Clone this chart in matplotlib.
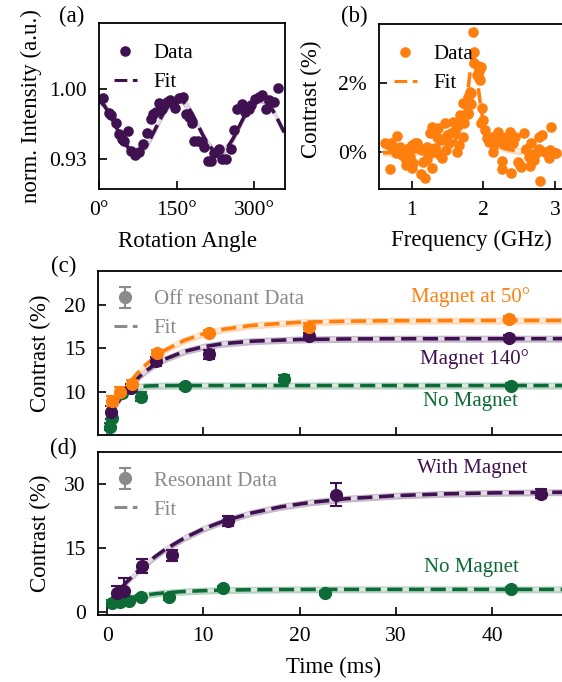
import numpy as np
import matplotlib
matplotlib.use("Agg")
from matplotlib import pyplot as plt

plt.rcParams['font.family'] = ['Liberation Serif', 'DejaVu Serif']
plt.rcParams['font.size'] = 15

purple = "#3f1150"
orange = "#ff7f0e"
green = "#0d6b36"
grey = "#8a8a8a"

# (a) rotation scan
angle_deg = [8, 20, 23, 32, 38, 45, 49, 56, 62, 70, 77, 85, 92, 101, 105, 110, 116, 122,
             126, 131, 137, 143, 148, 154, 163, 168, 174, 180, 184, 191, 199, 204, 210, 217,
             223, 232, 238, 246, 255, 262, 268, 277, 283, 290, 294, 302, 310, 315, 323, 329,
             339, 346]
intensity = [0.9906, 0.9754, 0.9736, 0.966, 0.955, 0.950, 0.9476, 0.958, 0.9374, 0.934,
             0.9364, 0.945, 0.9557, 0.970, 0.975, 0.977, 0.986, 0.980, 0.984, 0.987, 0.989,
             0.986, 0.981, 0.9906, 0.992, 0.975, 0.972, 0.966, 0.948, 0.9476, 0.9466, 0.942,
             0.928, 0.928, 0.9354, 0.940, 0.9297, 0.9297, 0.940, 0.9584, 0.980, 0.9848, 0.977,
             0.980, 0.9838, 0.9896, 0.992, 0.994, 0.980, 0.989, 0.987, 1.0007]
fit_angle = [0, 10, 20, 30, 40, 50, 60, 70, 80, 90, 100, 110, 120, 130, 140, 150, 160, 170,
             180, 190, 200, 210, 220, 230, 240, 250, 260, 270, 280, 290, 300, 310, 320, 330,
             340, 350, 360]
fit_intensity = [0.9887, 0.9835, 0.9753, 0.9651, 0.9547, 0.9455, 0.9389, 0.9361, 0.9373,
                 0.9425, 0.9507, 0.9609, 0.9713, 0.9805, 0.9871, 0.9899, 0.9887, 0.9835,
                 0.9753, 0.9651, 0.9547, 0.9455, 0.9389, 0.9361, 0.9373, 0.9425, 0.9507,
                 0.9609, 0.9713, 0.9805, 0.9871, 0.9899, 0.9887, 0.9835, 0.9753, 0.9651, 0.9547]

# (b) frequency scan
freq = [0.63, 0.68, 0.70, 0.71, 0.74, 0.78, 0.80, 0.84, 0.86, 0.88, 0.91, 0.92, 0.95, 0.96,
        0.98, 1.00, 1.01, 1.02, 1.05, 1.08, 1.10, 1.13, 1.14, 1.16, 1.18, 1.21, 1.22, 1.25,
        1.26, 1.28, 1.29, 1.31, 1.33, 1.35, 1.37, 1.39, 1.40, 1.43, 1.45, 1.46, 1.48, 1.49,
        1.52, 1.55, 1.58, 1.60, 1.63, 1.64, 1.66, 1.67, 1.71, 1.71, 1.73, 1.74, 1.75, 1.76,
        1.78, 1.79, 1.79, 1.80, 1.81, 1.83, 1.83, 1.86, 1.87, 1.87, 1.91, 1.93, 1.94, 1.94,
        1.95, 1.97, 1.97, 1.98, 2.00, 2.02, 2.05, 2.08, 2.12, 2.14, 2.15, 2.21, 2.22, 2.26,
        2.26, 2.28, 2.32, 2.35, 2.37, 2.38, 2.42, 2.44, 2.48, 2.51, 2.53, 2.57, 2.60, 2.64,
        2.65, 2.67, 2.70, 2.74, 2.77, 2.78, 2.79, 2.82, 2.86, 2.91, 2.93, 2.95, 3.00, 3.02]
contrast = [0.25, 0.20, -0.51, 0.26, 0.10, -0.05, 0.46, 0.15, -0.10, 0.05, -0.19, -0.39,
            -0.29, 0.10, -0.15, -0.49, 0.20, -0.34, 0.25, 0.25, 0.10, -0.65, 0.05, -0.30,
            -0.78, -0.22, 0.15, -0.05, 0.54, -0.49, 0.73, 0.00, 0.10, 0.42, 0.68, 0.34,
            -0.10, -0.19, 0.36, 0.85, 0.05, 0.49, 0.25, 0.54, 0.88, 0.61, 0.00, 0.78, 0.20,
            1.07, 0.44, 1.42, 0.85, 1.42, 1.39, 1.10, 1.12, 1.10, 1.61, 1.46, 1.73, 1.39,
            1.71, 3.51, 2.92, 2.58, 2.24, 2.49, 2.15, 2.37, 2.10, 2.46, 0.85, 1.27, 0.93,
            0.63, 0.39, 0.29, 0.44, 0.00, 0.20, 0.58, 0.34, -0.26, -0.51, 0.25, 0.44, 0.25,
            0.58, -0.61, 0.25, 0.44, -0.29, -0.39, -0.44, 0.54, 0.07, -0.15, -0.42, 0.25,
            -0.24, -0.05, 0.44, 0.07, -0.85, 0.49, 0.00, -0.19, 0.05, 0.73, -0.05, -0.05]
fit_freq = [0.6, 0.8, 1.0, 1.2, 1.4, 1.5, 1.6, 1.65, 1.7, 1.74, 1.77, 1.8, 1.82, 1.84, 1.86,
            1.88, 1.9, 1.92, 1.95, 1.98, 2.02, 2.07, 2.12, 2.2, 2.3, 2.45, 2.6, 2.8, 3.0, 3.2]
fit_contrast = [-0.032, -0.025, -0.012, 0.014, 0.079, 0.154, 0.317, 0.477, 0.751, 1.118,
                1.525, 2.046, 2.407, 2.690, 2.80, 2.690, 2.407, 2.046, 1.525, 1.118, 0.751,
                0.477, 0.317, 0.177, 0.090, 0.030, 0.001, -0.018, -0.028, -0.034]

# (c) off resonant contrast vs time
t_c_orange = [0.5, 1.3, 2.6, 5.2, 10.6, 21.0, 41.7]
c_orange = [8.9, 10.0, 10.9, 14.4, 16.8, 17.5, 18.4]
c_orange_err = [0.6, 0.5, 0.4, 0.4, 0.3, 0.4, 0.3]
t_c_purple = [0.45, 2.5, 5.1, 10.6, 21.0, 41.7]
c_purple = [7.6, 10.4, 13.5, 14.3, 16.4, 16.2]
c_purple_err = [0.7, 0.5, 0.5, 0.5, 0.4, 0.3]
t_c_green = [0.3, 0.5, 1.5, 3.5, 8.1, 18.4, 42.0]
c_green = [5.95, 7.0, 9.8, 9.4, 10.6, 11.5, 10.7]
c_green_err = [0.4, 0.5, 0.4, 0.5, 0.3, 0.4, 0.3]
fit_t_c = [0, 0.25, 0.5, 0.75, 1, 1.5, 2, 3, 4, 5, 6, 8, 10, 12, 15, 20, 25, 30, 40, 48]
fit_c_orange = [6.80, 7.36, 7.88, 8.39, 8.86, 9.75, 10.56, 11.94, 13.08, 14.00, 14.77, 15.90,
                 16.66, 17.17, 17.63, 17.99, 18.12, 18.17, 18.20, 18.20]
fit_c_purple = [6.60, 7.14, 7.64, 8.12, 8.58, 9.39, 10.13, 11.37, 12.36, 13.13, 13.74, 14.62,
                15.17, 15.52, 15.81, 16.01, 16.07, 16.09, 16.10, 16.10]
fit_c_green = [5.30, 6.61, 7.60, 8.35, 8.92, 9.68, 10.12, 10.51, 10.64, 10.68, 10.69, 10.70,
               10.70, 10.70, 10.70, 10.70, 10.70, 10.70, 10.70, 10.70]

# (d) resonant contrast vs time
t_d_purple = [1.0, 1.8, 3.6, 6.7, 12.6, 23.8, 45.1]
d_purple = [4.6, 5.0, 10.9, 13.4, 21.4, 27.6, 27.8]
d_purple_err = [1.5, 3.0, 1.6, 1.3, 1.1, 2.6, 1.1]
t_d_green = [0.5, 1.3, 2.3, 3.5, 6.4, 12.0, 22.6, 42.0]
d_green = [2.2, 2.5, 2.6, 3.6, 3.5, 5.7, 4.5, 5.6]
d_green_err = [0.6, 0.5, 0.5, 0.4, 0.5, 0.6, 0.5, 0.4]
fit_t_d = [0, 0.5, 1, 2, 3, 4, 5, 6, 8, 10, 12, 15, 18, 21, 25, 30, 35, 40, 48]
fit_d_purple = [1.80, 3.23, 4.58, 7.07, 9.30, 11.31, 13.09, 14.71, 17.41, 19.58, 21.30,
                23.29, 24.72, 25.73, 26.65, 27.35, 27.76, 27.99, 28.17]
fit_d_green = [1.80, 2.22, 2.60, 3.21, 3.70, 4.08, 4.37, 4.60, 4.91, 5.10, 5.22, 5.32, 5.36,
               5.38, 5.40, 5.40, 5.40, 5.40, 5.40]

DASH = (4.2, 1.8)


def style(ax):
  for s in ax.spines.values():
    s.set_linewidth(1.3)
  ax.tick_params(direction="in", length=6, width=1.2, labelsize=15.5)
  ax.tick_params(axis="x", pad=8.5)
  ax.tick_params(axis="y", pad=8.5)


def fit_line(ax, x, y, color, band):
  y = np.array(y)
  ax.fill_between(x, y - band, y + band, color=color, alpha=0.3, lw=0)
  ax.plot(x, y, color="white", alpha=0.5, lw=2.6)
  ax.plot(x, y, color=color, lw=2.6, dashes=DASH)


W, H = 562.0, 682.0
fig = plt.figure(figsize=(5.62, 6.82), dpi=100)

def add_axes(left, right, top, bottom):
  return fig.add_axes([left / W, 1 - bottom / H, (right - left) / W, (bottom - top) / H])

ax_a = add_axes(99, 285, 23, 189)
ax_b = add_axes(379, 567, 24, 189)
ax_c = add_axes(97.5, 567, 271, 435)
ax_d = add_axes(97.5, 567, 452.3, 615)

leg_kw = dict(loc="upper left", frameon=False, fontsize=15, handlelength=1.1,
              handletextpad=0.8, labelspacing=0.45, borderpad=0, borderaxespad=0)

# (a)
fit_line(ax_a, fit_angle, fit_intensity, purple, 0.004)
ax_a.plot(angle_deg, intensity, "o", color=purple, ms=6.6, label="Data")
ax_a.plot([], [], color=purple, lw=2.2, dashes=DASH, label="Fit")
ax_a.set_xlim(0, 360)
ax_a.set_ylim(0.8997, 1.066)
ax_a.set_xticks([0, 150, 300])
ax_a.set_xticklabels(["0°", "150°", "300°"])
ax_a.set_yticks([0.93, 1.00])
ax_a.set_yticklabels(["0.93", "1.00"])
style(ax_a)
ax_a.set_xlabel("Rotation Angle", fontsize=16.5)
ax_a.set_ylabel("norm. Intensity (a.u.)", fontsize=16.5)
ax_a.xaxis.set_label_coords(0.478, -0.25)
ax_a.yaxis.set_label_coords(-0.306, 0.5)
ax_a.legend(bbox_to_anchor=(0.08, 0.875), **leg_kw)

# (b)
fit_line(ax_b, fit_freq, fit_contrast, orange, 0.1)
ax_b.plot(freq, contrast, "o", color=orange, ms=6.6, label="Data")
ax_b.plot([], [], color=orange, lw=2.2, dashes=DASH, label="Fit")
ax_b.set_xlim(0.545, 3.167)
ax_b.set_ylim(-1.09, 3.73)
ax_b.set_xticks([1, 2, 3])
ax_b.set_yticks([0, 2])
ax_b.set_yticklabels(["0%", "2%"])
style(ax_b)
ax_b.set_xlabel("Frequency (GHz)", fontsize=16.5)
ax_b.set_ylabel("Contrast (%)", fontsize=16.5)
ax_b.xaxis.set_label_coords(0.49, -0.25)
ax_b.yaxis.set_label_coords(-0.303, 0.545)
ax_b.legend(bbox_to_anchor=(0.08, 0.875), **leg_kw)

# (c)
eb = dict(fmt="o", ms=8.5, capsize=4, elinewidth=1.5, capthick=1.5)
fit_line(ax_c, fit_t_c, fit_c_green, green, 0.4)
fit_line(ax_c, fit_t_c, fit_c_purple, purple, 0.4)
fit_line(ax_c, fit_t_c, fit_c_orange, orange, 0.4)
ax_c.errorbar(t_c_green, c_green, yerr=c_green_err, color=green, **eb)
ax_c.errorbar(t_c_purple, c_purple, yerr=c_purple_err, color=purple, **eb)
ax_c.errorbar(t_c_orange, c_orange, yerr=c_orange_err, color=orange, **eb)
h_data_c = ax_c.errorbar([np.nan], [np.nan], yerr=[1], color=grey, **eb)
h_fit_c, = ax_c.plot([], [], color=grey, lw=2.2, dashes=DASH)
ax_c.text(43.9, 20.9, "Magnet at 50°", color=orange, ha="right", va="center", fontsize=15)
ax_c.text(43.8, 13.8, "Magnet 140°", color=purple, ha="right", va="center", fontsize=15)
ax_c.text(42.7, 8.87, "No Magnet", color=green, ha="right", va="center", fontsize=15)
ax_c.set_xlim(-1.0, 47.77)
ax_c.set_ylim(5.0, 23.9)
ax_c.set_xticks([0, 10, 20, 30, 40])
ax_c.set_xticklabels([])
ax_c.set_yticks([10, 15, 20])
style(ax_c)
ax_c.set_ylabel("Contrast (%)", fontsize=16.5)
ax_c.yaxis.set_label_coords(-0.098, 0.5)
ax_c.legend([h_data_c, h_fit_c], ["Off resonant Data", "Fit"], bbox_to_anchor=(0.035, 0.885),
            labelcolor=grey, **leg_kw)

# (d)
fit_line(ax_d, fit_t_d, fit_d_green, green, 0.8)
fit_line(ax_d, fit_t_d, fit_d_purple, purple, 0.8)
ax_d.errorbar(t_d_green, d_green, yerr=d_green_err, color=green, **eb)
ax_d.errorbar(t_d_purple, d_purple, yerr=d_purple_err, color=purple, **eb)
h_data_d = ax_d.errorbar([np.nan], [np.nan], yerr=[1], color=grey, **eb)
h_fit_d, = ax_d.plot([], [], color=grey, lw=2.2, dashes=DASH)
ax_d.text(43.7, 33.7, "With Magnet", color=purple, ha="right", va="center", fontsize=15)
ax_d.text(42.8, 10.5, "No Magnet", color=green, ha="right", va="center", fontsize=15)
ax_d.set_xlim(-1.0, 47.77)
ax_d.set_ylim(-0.6, 37.5)
ax_d.set_xticks([0, 10, 20, 30, 40])
ax_d.set_yticks([0, 15, 30])
style(ax_d)
ax_d.set_xlabel("Time (ms)", fontsize=16.5)
ax_d.set_ylabel("Contrast (%)", fontsize=16.5)
ax_d.xaxis.set_label_coords(0.503, -0.258)
ax_d.yaxis.set_label_coords(-0.098, 0.5)
ax_d.legend([h_data_d, h_fit_d], ["Resonant Data", "Fit"], bbox_to_anchor=(0.035, 0.885),
            labelcolor=grey, **leg_kw)

fig.text(72 / W, 1 - 16.5 / H, "(a)", ha="center", va="center", fontsize=16.5)
fig.text(354 / W, 1 - 16.5 / H, "(b)", ha="center", va="center", fontsize=16.5)
fig.text(63.5 / W, 1 - 266 / H, "(c)", ha="center", va="center", fontsize=16.5)
fig.text(63.5 / W, 1 - 448 / H, "(d)", ha="center", va="center", fontsize=16.5)

fig.savefig("out.png", dpi=100)
